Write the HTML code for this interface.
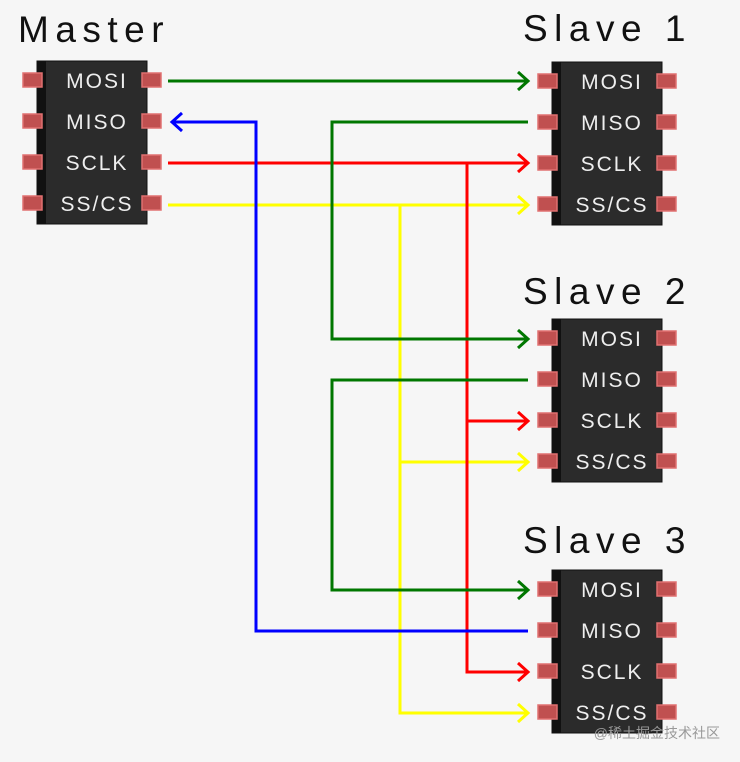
<!DOCTYPE html>
<html><head><meta charset="utf-8"><style>
html,body{margin:0;padding:0;background:#f5f5f5;}
svg{display:block}
</style></head><body>
<svg width="740" height="762" viewBox="0 0 740 762" xmlns="http://www.w3.org/2000/svg">
<rect width="740" height="762" fill="#f6f6f6"/>
<defs>
<g id="chip">
  <rect x="0" y="0" width="110" height="163" fill="#2b2b2b" stroke="#111" stroke-width="1"/>
  <rect x="0" y="0" width="9" height="163" fill="#111"/>
  <g fill="#c05050" stroke="#e07070" stroke-width="1.5">
    <rect x="-14" y="12" width="19" height="14"/><rect x="-14" y="53" width="19" height="14"/>
    <rect x="-14" y="94" width="19" height="14"/><rect x="-14" y="135" width="19" height="14"/>
    <rect x="105" y="12" width="19" height="14"/><rect x="105" y="53" width="19" height="14"/>
    <rect x="105" y="94" width="19" height="14"/><rect x="105" y="135" width="19" height="14"/>
  </g>
  <g fill="#eee" font-family="Liberation Sans, sans-serif" font-size="21" letter-spacing="2" text-anchor="middle">
    <text x="60" y="27">MOSI</text><text x="60" y="68">MISO</text>
    <text x="60" y="109">SCLK</text><text x="60" y="150">SS/CS</text>
  </g>
</g>
</defs>
<g font-family="Liberation Sans, sans-serif" font-size="37" fill="#111" letter-spacing="6.5">
<text x="18" y="42">Master</text>
<text x="523" y="41">Slave 1</text>
<text x="523" y="304">Slave 2</text>
<text x="523" y="553">Slave 3</text>
</g>
<use href="#chip" x="37" y="61"/>
<use href="#chip" x="552" y="62"/>
<use href="#chip" x="552" y="319"/>
<use href="#chip" x="552" y="570"/>
<g fill="none" stroke-width="3">
<g stroke="#ffff00">
<path d="M168 205H528M400 205V713H528M400 462H528"/>
<path d="M518 196L528 205L518 214M518 453L528 462L518 471M518 704L528 713L518 722"/>
</g>
<g stroke="#ff0000">
<path d="M168 163H528M467 163V672H528M467 421H528"/>
<path d="M518 154L528 163L518 172M518 412L528 421L518 430M518 663L528 672L518 681"/>
</g>
<g stroke="#007700">
<path d="M168 81H528M528 122H332V339H528M528 380H332V590H528"/>
<path d="M518 72L528 81L518 90M518 330L528 339L518 348M518 581L528 590L518 599"/>
</g>
<g stroke="#0000ff">
<path d="M528 631H256V122H172"/>
<path d="M182 113L172 122L182 131"/>
</g>
</g>
<text x="720" y="738" text-anchor="end" font-family="Liberation Sans, Noto Sans CJK SC, sans-serif" font-size="14" fill="#999">@稀土掘金技术社区</text>
</svg>
</body></html>
